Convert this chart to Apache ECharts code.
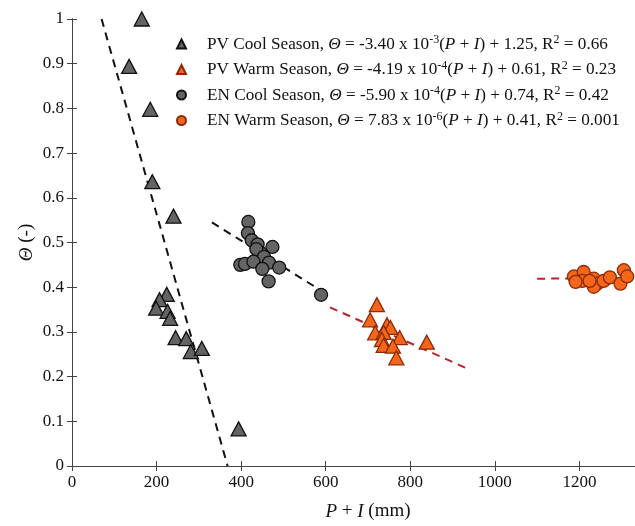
<!DOCTYPE html>
<html><head><meta charset="utf-8">
<script src="https://cdn.jsdelivr.net/npm/echarts@6/dist/echarts.min.js"></script>
<style>html,body{margin:0;padding:0;background:#fff;overflow:hidden;width:635px;height:526px}#c{width:664px;height:526px}</style>
</head><body><div id="c"></div>
<script>
// ---- data ----
const pvCoolX = [165, 135, 185, 190, 240, 224, 207, 199, 226, 232, 245, 270, 281, 307, 394];
const pvCoolY = [1.0, 0.894, 0.798, 0.636, 0.559, 0.384, 0.372, 0.353, 0.346, 0.33, 0.287, 0.285, 0.256, 0.263, 0.083];
const pvWarmX = [721, 705, 745, 753, 717, 737, 775, 733, 737, 759, 767, 839];
const pvWarmY = [0.361, 0.327, 0.316, 0.31, 0.298, 0.299, 0.287, 0.283, 0.27, 0.268, 0.242, 0.277];
const enCoolX = [417, 416, 425, 439, 474, 447, 436, 454, 398, 409, 429, 466, 490, 450, 465, 589];
const enCoolY = [0.546, 0.521, 0.505, 0.496, 0.49, 0.476, 0.485, 0.468, 0.45, 0.452, 0.457, 0.455, 0.444, 0.441, 0.413, 0.383];
const enWarmX = [1187, 1210, 1207, 1234, 1242, 1234, 1257, 1272, 1297, 1305, 1313, 1224, 1191];
const enWarmY = [0.424, 0.434, 0.414, 0.419, 0.408, 0.401, 0.414, 0.422, 0.408, 0.438, 0.424, 0.414, 0.412];
// fitted-line end points as drawn
const pvCoolFit = [[70, 1.0], [368, 0.0]];
const pvWarmFit = [[610, 0.355], [930, 0.22]];
const enCoolFit = [[331, 0.545], [605, 0.383]];
const enWarmFit = [[1100, 0.419], [1400, 0.421]];
const seriesNames = ['PV Cool Season', 'PV Warm Season', 'EN Cool Season', 'EN Warm Season'];
const slopes = ['-3.40 x 10', '-4.19 x 10', '-5.90 x 10', '7.83 x 10'];
const exps = ['-3', '-4', '-4', '-6'];
const r2s = ['0.66', '0.23', '0.42', '0.001'];
const consts = ['1.25', '0.61', '0.74', '0.41'];
const xTicks = { min: 0, max: 1400, interval: 200 };
const yTicks = { min: 0, max: 1, interval: 0.1 };

const zip = (xs, ys) => xs.map((x, i) => [x, ys[i]]);
const FONT = "'Liberation Serif','Times New Roman',serif";
const GRAY = '#646464', ORANGE = '#f5661a', OEDGE = '#8a2a08', RED = '#b0262b';

const legendText = {};
seriesNames.forEach((n, i) => {
  legendText[n] = '{sp|}{n|' + n + ', }{i|\u0398}{n| = ' + slopes[i] + '}{s|' + exps[i] + '}{n|(}{i|P}{n| + }{i|I}{n|) + ' + consts[i] + ', R}{s|2}{n| = ' + r2s[i] + '}';
});

const rich = {
  sp: { width: 16 },
  n: { fontFamily: FONT, fontSize: 17.2, color: '#111', lineHeight: 20 },
  i: { fontFamily: FONT, fontSize: 17.2, fontStyle: 'italic', color: '#111', lineHeight: 20 },
  s: { fontFamily: FONT, fontSize: 12, color: '#111', verticalAlign: 'top', lineHeight: 12 }
};

function scatter(name, data, symbol, fill, edge, size) {
  return { name, type: 'scatter', data, symbol, symbolSize: size, z: 3,
    itemStyle: { color: fill, borderColor: edge, borderWidth: 1.3, opacity: 1 } };
}
function fit(data, color) {
  return { type: 'line', data, showSymbol: false, symbol: 'none', silent: true, z: 2,
    lineStyle: { color, width: 2, type: [8, 6] } };
}

const axisLine = { show: true, lineStyle: { color: '#444', width: 1 } };
const labelStyle = { fontFamily: FONT, fontSize: 17, color: '#111' };
const nameRich = { i: { fontFamily: FONT, fontSize: 19, fontStyle: 'italic', color: '#111' }, n: { fontFamily: FONT, fontSize: 19, color: '#111' } };

const option = {
  animation: false,
  backgroundColor: '#fff',
  grid: { left: 72, top: 19, bottom: 57, right: 0, containLabel: false },
  legend: {
    data: seriesNames.map(n => ({ name: n, icon: n.startsWith('PV') ? 'triangle' : 'circle' })),
    orient: 'vertical', left: 171, top: 29, itemWidth: 9, itemHeight: 9, itemGap: 7,
    formatter: n => legendText[n],
    textStyle: { rich },
    selectedMode: false
  },
  xAxis: [
    { type: 'value', min: xTicks.min, max: xTicks.max, interval: xTicks.interval,
      name: '{i|P}{n| + }{i|I}{n| (mm)}', nameLocation: 'middle', nameGap: 36, nameMoveOverlap: false,
      nameTextStyle: { rich: nameRich },
      axisLine, axisTick: { inside: true, length: 5, lineStyle: { color: '#444' } },
      axisLabel: Object.assign({ margin: 8, showMaxLabel: false, formatter: v => String(v) }, labelStyle), splitLine: { show: false } },
    { type: 'value', position: 'top', min: xTicks.min, max: xTicks.max, interval: xTicks.interval,
      axisLine, axisTick: { inside: true, length: 5, lineStyle: { color: '#444' } },
      axisLabel: { show: false }, splitLine: { show: false } }
  ],
  yAxis: [
    { type: 'value', min: yTicks.min, max: yTicks.max, interval: yTicks.interval,
      name: '{i|\u0398}{n| (-)}', nameLocation: 'middle', nameGap: 36, nameMoveOverlap: false,
      nameTextStyle: { rich: nameRich },
      axisLine, axisTick: { inside: true, length: 5, lineStyle: { color: '#444' } },
      axisLabel: Object.assign({ margin: 8, formatter: v => String(+v.toFixed(1)) }, labelStyle), splitLine: { show: false } },
    { type: 'value', position: 'right', min: yTicks.min, max: yTicks.max, interval: yTicks.interval,
      axisLine, axisTick: { inside: true, length: 5, lineStyle: { color: '#444' } },
      axisLabel: { show: false }, splitLine: { show: false } }
  ],
  series: [
    fit(pvCoolFit, '#111'),
    fit(enCoolFit, '#111'),
    fit(pvWarmFit, RED),
    fit(enWarmFit, RED),
    scatter(seriesNames[0], zip(pvCoolX, pvCoolY), 'triangle', GRAY, '#111', [15, 14]),
    scatter(seriesNames[1], zip(pvWarmX, pvWarmY), 'triangle', ORANGE, OEDGE, [15, 14]),
    scatter(seriesNames[2], zip(enCoolX, enCoolY), 'circle', GRAY, '#111', 13),
    scatter(seriesNames[3], zip(enWarmX, enWarmY), 'circle', ORANGE, OEDGE, 13)
  ]
};
echarts.init(document.getElementById('c'), null, { renderer: 'canvas' }).setOption(option);
</script></body></html>
